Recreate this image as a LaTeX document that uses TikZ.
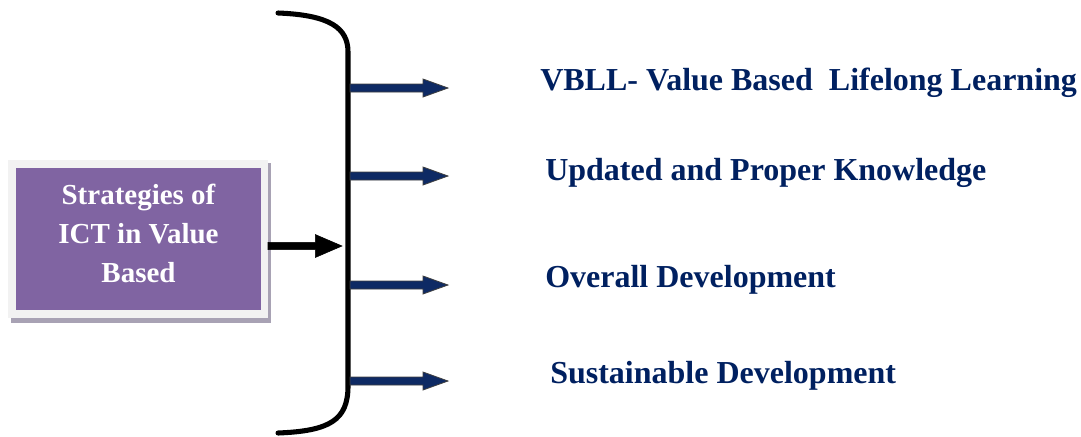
\documentclass[tikz,border=0pt]{standalone}
\usepackage{fontspec}
\setmainfont{Liberation Serif}
\usetikzlibrary{calc}
\definecolor{navytext}{RGB}{0,32,96}
\definecolor{navyfill}{RGB}{14,42,100}
\definecolor{boxpurple}{RGB}{128,100,162}
\definecolor{framegray}{RGB}{242,242,242}
\definecolor{shadowgray}{RGB}{168,162,180}
\tikzset{
  outtext/.style={anchor=base west, text=navytext, font=\fontsize{24}{28}\selectfont\bfseries, inner sep=0pt},
  boxtext/.style={text=white, align=center, font=\fontsize{21.75}{29.25}\selectfont\bfseries, inner sep=0pt},
  bracketline/.style={line width=3.8pt, line cap=round},
  bluearrow/.style={fill=navyfill, draw=black!75, line width=0.6pt},
  blackarrow/.style={fill=black, draw=black, line width=0.4pt}
}
\begin{document}
\begin{tikzpicture}[x=0.75pt,y=-0.75pt]
\useasboundingbox (0,0) rectangle (1081,436);
% box with frame and shadow
\fill[shadowgray] (11,163) rectangle (271,323);
\fill[framegray] (8,160) rectangle (268,318);
\node[fill=boxpurple, minimum width=183.75pt, minimum height=106.5pt, inner sep=0pt, anchor=north west] (box) at (16,168) {};
\node[boxtext] (boxlabel) at (138.5,233) {Strategies of\\ICT in Value\\Based};
% bracket
\coordinate (btop) at (278,13);
\coordinate (bbot) at (278,433);
\draw[bracketline] (btop) .. controls (330,15) and (348,28) .. (348,52) -- (348,386) .. controls (348,420) and (330,431) .. (bbot);
% arrow coordinates
\coordinate (s1) at (350,88);  \coordinate (e1) at (448,88);
\coordinate (s2) at (350,176); \coordinate (e2) at (448,176);
\coordinate (s3) at (350,285); \coordinate (e3) at (448,285);
\coordinate (s4) at (350,381); \coordinate (e4) at (448,381);
\coordinate (bs) at (268,246); \coordinate (be) at (342,246);
\foreach \i in {1,2,3,4}{
  \path[bluearrow] let \p1=(s\i), \p2=(e\i) in
    (\x1,\y1+3pt) -- (\x2-18.75pt,\y1+3pt) -- (\x2-18.75pt,\y1+6.75pt) -- (\x2,\y1)
    -- (\x2-18.75pt,\y1-6.75pt) -- (\x2-18.75pt,\y1-3pt) -- (\x1,\y1-3pt) -- cycle;
}
\path[blackarrow] let \p1=(bs), \p2=(be) in
    (\x1,\y1+2.7pt) -- (\x2-20pt,\y1+2.7pt) -- (\x2-20pt,\y1+8.6pt) -- (\x2,\y1)
    -- (\x2-20pt,\y1-8.6pt) -- (\x2-20pt,\y1-2.7pt) -- (\x1,\y1-2.7pt) -- cycle;
% texts
\node[outtext] (t1) at (540,90) {VBLL- Value Based\ \ Lifelong Learning};
\node[outtext] (t2) at (545,180) {Updated and Proper Knowledge};
\node[outtext] (t3) at (545,287) {Overall Development};
\node[outtext] (t4) at (550,383) {Sustainable Development};
\end{tikzpicture}
\end{document}
